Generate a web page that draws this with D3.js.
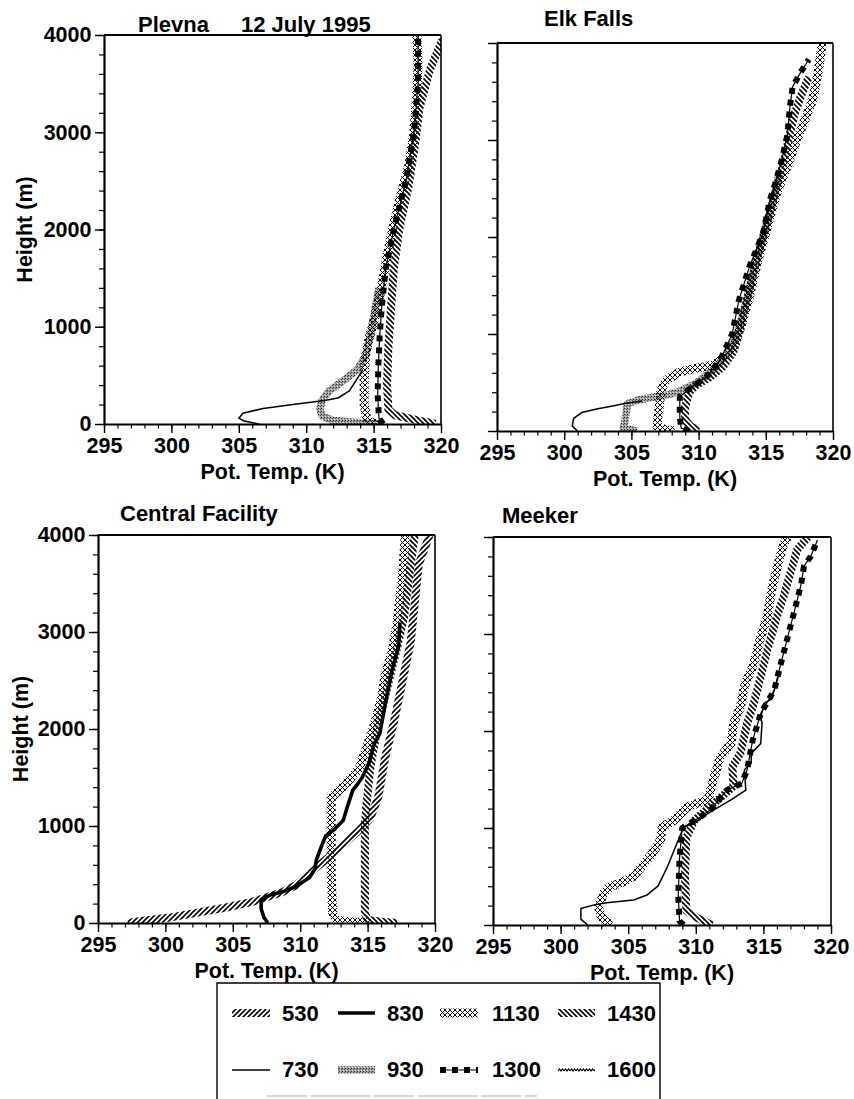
<!DOCTYPE html>
<html>
<head>
<meta charset="utf-8">
<script src="https://cdn.jsdelivr.net/npm/d3@7"></script>
<style>
  html, body { margin: 0; padding: 0; background: #fff; }
  svg { display: block; }
  text { font-family: "Liberation Sans", Arial, Helvetica, sans-serif; font-weight: bold; fill: #000; }
</style>
</head>
<body>
<svg id="chart" width="854" height="1099"></svg>
<script>
// ---------------- DATA ----------------
const tempTicks = [295, 300, 305, 310, 315, 320];
const heightTicks = [0, 1000, 2000, 3000, 4000];
const legendRow1 = ["530", "830", "1130", "1430"];
const legendRow2 = ["730", "930", "1300", "1600"];

// Plevna  [theta (K), height (m)]
const plevna730  = [[306.5,0],[305.4,30],[305.0,60],[305.3,110],[306.8,160],[309.3,205],[311.5,245],[312.4,270],[313.2,340],[313.8,470],[314.2,560]];
const plevna930  = [[315.6,0],[314.0,12],[312.0,35],[311.2,80],[311.0,150],[311.2,250],[311.7,340],[312.8,450],[313.8,560],[314.4,700],[314.8,930],[315.1,1170],[315.4,1400]];
const plevna1130 = [[315.2,0],[314.5,40],[314.3,200],[314.3,450],[314.4,700],[314.7,900],[315.1,1100],[315.5,1350],[315.9,1650],[316.4,2000],[317.0,2350],[317.6,2650],[318.0,3000],[318.2,3400],[318.3,3700],[318.2,4000]];
const plevna1300 = [[315.7,0],[315.4,60],[315.3,300],[315.35,600],[315.45,900],[315.6,1200],[315.9,1600],[316.5,2000],[317.4,2500],[318.0,3000],[318.3,3500],[318.3,4000]];
const plevna1430 = [[319.6,0],[318.2,40],[316.6,90],[316.1,150],[316.0,400],[316.1,800],[316.3,1200],[316.5,1600],[316.9,2000],[317.6,2450],[318.1,2900],[318.4,3250],[319.2,3650],[320.1,3950]];

// Elk Falls
const elk730  = [[301.0,0],[300.6,50],[300.7,130],[301.3,190],[302.5,230],[303.5,255],[304.6,285],[305.8,310]];
const elk930  = [[305.4,0],[304.4,30],[304.5,80],[304.6,180],[304.7,280],[305.5,320],[306.5,345],[307.6,370],[308.6,410],[309.8,490],[311.0,620],[312.2,800],[312.9,1000],[313.5,1300],[314.1,1650],[314.8,2000],[315.5,2350],[316.0,2650]];
const elk1130 = [[308.2,0],[307.4,20],[306.9,50],[307.0,150],[307.1,280],[307.2,420],[307.6,525],[308.6,610],[309.8,645],[311.0,680],[312.0,760],[312.7,900],[313.2,1100],[313.8,1400],[314.4,1750],[315.1,2100],[315.8,2450],[316.6,2730],[317.3,3000],[318.0,3240],[318.5,3420],[318.9,3700],[319.2,4000]];
const elk1300 = [[309.3,0],[308.7,30],[308.6,150],[308.6,350],[309.2,420],[310.0,500],[310.6,560],[311.6,730],[312.5,1000],[313.0,1350],[313.8,1700],[314.8,2040],[315.3,2380],[315.7,2550],[316.2,2800],[316.6,3050],[316.8,3350],[317.0,3550],[317.6,3700],[318.2,3830]];
const elk1430 = [[310.0,0],[309.4,50],[309.0,110],[309.0,250],[309.3,400],[309.8,470],[310.8,550],[311.8,660],[312.6,820],[313.1,1050],[313.6,1350],[314.2,1700],[314.9,2050],[315.6,2400],[316.2,2700],[316.7,3000],[317.1,3250],[317.6,3450],[318.2,3650]];

// Central Facility
const cf530  = [[297.2,0],[298.5,25],[300.5,60],[302.5,110],[304.5,160],[306.5,220],[307.5,265],[308.7,320],[309.7,390],[310.9,540],[312.5,720],[314.4,960],[315.2,1080],[315.8,1300],[316.3,1700],[317.0,2100],[317.6,2500],[318.2,2900],[318.5,3300],[318.8,3700],[319.6,4000]];
const cf830  = [[307.6,0],[307.3,60],[307.1,150],[307.1,240],[307.8,290],[309.0,335],[309.7,380],[310.7,470],[311.1,560],[311.2,650],[311.6,800],[311.9,900],[312.5,960],[313.2,1060],[313.5,1200],[313.9,1370],[314.3,1440],[314.6,1500],[315.1,1650],[315.5,1850],[315.9,1950],[316.3,2250],[316.8,2600],[317.3,2850],[317.4,3100]];
const cf1130 = [[315.2,0],[314.0,10],[312.7,25],[312.4,100],[312.3,500],[312.3,1000],[312.3,1290],[313.0,1380],[313.5,1450],[314.4,1600],[314.9,1800],[315.4,2000],[316.0,2300],[316.3,2550],[316.9,2850],[317.2,3100],[317.6,3600],[317.8,4000]];
const cf1430 = [[317.2,0],[316.2,10],[315.0,30],[314.8,100],[314.8,500],[314.8,1000],[314.9,1200],[315.2,1600],[315.7,2000],[316.4,2400],[317.2,2850],[317.7,3150],[318.2,3700],[318.5,4000]];

// Meeker
const mk730  = [[302.0,0],[301.5,60],[301.5,170],[302.4,205],[303.4,230],[305.4,258],[306.4,310],[307.2,400],[307.9,600],[308.6,840],[309.1,1010],[309.9,1050],[310.9,1150],[312.6,1290],[313.7,1390],[313.6,1600],[314.1,1670],[314.1,1770],[314.8,1870],[314.9,2080],[314.8,2150],[315.1,2290],[315.6,2330],[316.1,2560]];
const mk1130 = [[303.7,0],[303.0,80],[302.8,190],[303.2,330],[303.7,400],[304.4,430],[305.4,500],[306.4,670],[306.9,760],[307.4,880],[307.5,1010],[308.4,1080],[309.4,1220],[310.9,1290],[311.3,1500],[311.6,1630],[311.8,1730],[312.6,1870],[312.8,2080],[313.3,2250],[313.6,2460],[314.3,2700],[314.8,2970],[315.3,3180],[315.6,3450],[316.1,3730],[316.5,3930],[316.8,4000]];
const mk1300 = [[309.1,0],[308.8,40],[308.7,300],[308.8,700],[309.0,1000],[310.3,1110],[311.1,1190],[312.3,1390],[313.4,1460],[313.8,1600],[314.2,1900],[314.8,2180],[315.8,2420],[316.3,2700],[316.8,2970],[317.5,3350],[317.8,3520],[318.0,3700],[318.5,3800],[319.0,3970]];
const mk1430 = [[311.2,0],[310.0,80],[309.3,150],[309.2,500],[309.3,900],[309.9,1080],[311.3,1250],[312.8,1430],[312.7,1630],[313.3,1770],[313.8,2080],[314.3,2290],[314.8,2560],[315.3,2840],[316.0,3180],[316.5,3390],[317.0,3630],[317.5,3870],[318.3,4000]];

// ---------------- LAYOUT ----------------
const panels = [
  { titles: [["Plevna", 138, 32], ["12 July 1995", 241, 32]], x0: 104, x1: 441, y0: 35, y1: 424, yLabels: true, yTitleX: 32,
    series: [["930", plevna930], ["1130", plevna1130], ["1430", plevna1430], ["1300", plevna1300], ["730", plevna730]] },
  { titles: [["Elk Falls", 544, 26]], x0: 497, x1: 833, y0: 43, y1: 431, yLabels: false,
    series: [["930", elk930], ["1130", elk1130], ["1430", elk1430], ["1300", elk1300], ["730", elk730]] },
  { titles: [["Central Facility", 120, 521]], x0: 98, x1: 435, y0: 535, y1: 923, yLabels: true, yTitleX: 27.5,
    series: [["1130", cf1130], ["1430", cf1430], ["530", cf530], ["830", cf830]] },
  { titles: [["Meeker", 502, 523]], x0: 493, x1: 831, y0: 537, y1: 925, yLabels: false,
    series: [["1130", mk1130], ["1430", mk1430], ["1300", mk1300], ["730", mk730]] }
];

const svg = d3.select("#chart");
const defs = svg.append("defs");

// patterns
function pat(id, w, h, build) {
  const p = defs.append("pattern").attr("id", id).attr("patternUnits", "userSpaceOnUse")
    .attr("width", w).attr("height", h);
  build(p);
}
pat("hatchF", 5, 5, p => p.append("path").attr("d", "M-1,1L1,-1M0,5L5,0M4,6L6,4")
  .attr("stroke", "#000").attr("stroke-width", 1.7));
pat("hatchB", 5, 5, p => p.append("path").attr("d", "M-1,4L1,6M0,0L5,5M4,-1L6,1")
  .attr("stroke", "#000").attr("stroke-width", 1.7));
pat("cross", 5, 5, p => p.append("path").attr("d", "M0,0L5,5M5,0L0,5")
  .attr("stroke", "#000").attr("stroke-width", 1.0));
pat("gray", 3, 3, p => {
  p.append("rect").attr("width", 3).attr("height", 3).attr("fill", "#a0a0a0");
  p.append("rect").attr("width", 1).attr("height", 1).attr("fill", "#2a2a2a");
  p.append("rect").attr("x", 2).attr("y", 1).attr("width", 1).attr("height", 1).attr("fill", "#505050");
  p.append("rect").attr("x", 1).attr("y", 2).attr("width", 1).attr("height", 1).attr("fill", "#e0e0e0");
});
pat("zig", 6, 4, p => p.append("path").attr("d", "M0,3L1.5,1L3,3L4.5,1L6,3")
  .attr("stroke", "#000").attr("stroke-width", 1.2).attr("fill", "none"));

const styles = {
  "530":  [{ stroke: "url(#hatchF)", w: 8 }],
  "730":  [{ stroke: "#000", w: 1.5 }],
  "830":  [{ stroke: "#000", w: 3.6 }],
  "930":  [{ stroke: "url(#gray)", w: 7.5 }],
  "1130": [{ stroke: "url(#cross)", w: 9 }],
  "1300": [{ stroke: "#000", w: 1.2 }, { stroke: "#000", w: 6, dash: "6,6" }],
  "1430": [{ stroke: "url(#hatchB)", w: 8 }],
  "1600": [{ stroke: "url(#zig)", w: 4 }]
};

function drawStyled(g, dStr, key) {
  styles[key].forEach(s => {
    g.append("path").attr("d", dStr).attr("fill", "none")
      .attr("stroke", s.stroke).attr("stroke-width", s.w)
      .attr("stroke-linejoin", "round")
      .attr("stroke-dasharray", s.dash || null);
  });
}

const FS = 21.5;

panels.forEach((pn, i) => {
  const x = d3.scaleLinear().domain([295, 320]).range([pn.x0, pn.x1]);
  const y = d3.scaleLinear().domain([0, 4000]).range([pn.y1, pn.y0]);
  const g = svg.append("g");

  defs.append("clipPath").attr("id", "clip" + i).append("rect")
    .attr("x", pn.x0).attr("y", pn.y0).attr("width", pn.x1 - pn.x0).attr("height", pn.y1 - pn.y0);

  const line = d3.line().x(d => x(d[0])).y(d => y(d[1]));
  const plot = g.append("g").attr("clip-path", `url(#clip${i})`);
  pn.series.forEach(([key, data]) => drawStyled(plot, line(data), key));

  // frame top/right
  g.append("line").attr("x1", pn.x0).attr("x2", pn.x1).attr("y1", pn.y0).attr("y2", pn.y0)
    .attr("stroke", "#000").attr("stroke-width", 2);
  g.append("line").attr("x1", pn.x1).attr("x2", pn.x1).attr("y1", pn.y0).attr("y2", pn.y1)
    .attr("stroke", "#000").attr("stroke-width", 1.6);

  // minor ticks
  g.append("g").attr("transform", `translate(0,${pn.y1})`)
    .call(d3.axisBottom(x).tickValues(d3.range(295, 321, 1)).tickSize(4.5).tickSizeOuter(0).tickFormat(""))
    .call(a => a.select(".domain").remove())
    .call(a => a.selectAll("line").attr("stroke-width", 1.2));
  g.append("g").attr("transform", `translate(${pn.x0},0)`)
    .call(d3.axisLeft(y).tickValues(d3.range(0, 4001, 200)).tickSize(5).tickSizeOuter(0).tickFormat(""))
    .call(a => a.select(".domain").remove())
    .call(a => a.selectAll("line").attr("stroke-width", 1.2));

  // major axes
  const ax = g.append("g").attr("transform", `translate(0,${pn.y1})`)
    .call(d3.axisBottom(x).tickValues(tempTicks).tickSize(9).tickPadding(5).tickSizeOuter(0));
  ax.select(".domain").attr("stroke-width", 2.2);
  ax.selectAll("line").attr("stroke-width", 1.4);
  ax.selectAll("text").attr("font-size", FS).attr("font-family", null);

  const ay = g.append("g").attr("transform", `translate(${pn.x0},0)`)
    .call(d3.axisLeft(y).tickValues(heightTicks).tickSize(9).tickPadding(3.5).tickSizeOuter(0)
      .tickFormat(pn.yLabels ? d3.format("d") : ""));
  ay.select(".domain").attr("stroke-width", 2.2);
  ay.selectAll("line").attr("stroke-width", 1.4);
  ay.selectAll("text").attr("font-size", FS).attr("font-family", null);

  // titles
  pn.titles.forEach(([t, tx, ty]) => {
    g.append("text").attr("x", tx).attr("y", ty).attr("font-size", 22).text(t);
  });
  // x label
  g.append("text").attr("x", (pn.x0 + pn.x1) / 2).attr("y", pn.y1 + 55)
    .attr("text-anchor", "middle").attr("font-size", FS).text("Pot. Temp. (K)");
  // y label
  if (pn.yLabels) {
    const cy = (pn.y0 + pn.y1) / 2;
    g.append("text").attr("transform", `translate(${pn.yTitleX},${cy}) rotate(-90)`)
      .attr("text-anchor", "middle").attr("font-size", FS).text("Height (m)");
  }
});

// ---------------- LEGEND ----------------
const lg = svg.append("g");
const box = { x0: 217, x1: 660, y0: 983, y1: 1100 };
lg.append("path").attr("d", `M${box.x0},${box.y1}V${box.y0}H${box.x1}V${box.y1}`)
  .attr("fill", "none").attr("stroke", "#000").attr("stroke-width", 1.4);
lg.append("line").attr("x1", 267).attr("x2", 537).attr("y1", 1096).attr("y2", 1096)
  .attr("stroke", "#c8c8c8").attr("stroke-width", 1.5).attr("stroke-dasharray", "40,4,60,3");

const colSym = [[232, 270], [338, 375], [440, 478], [558, 595]];
const colText = [282, 387, 492, 607];
[[legendRow1, 1013, 1021], [legendRow2, 1070, 1077]].forEach(([row, sy, ty]) => {
  row.forEach((key, j) => {
    const [a, b] = colSym[j];
    const sg = lg.append("g");
    drawStyled(sg, `M${a},${sy}H${b}`, key);
    lg.append("text").attr("x", colText[j]).attr("y", ty).attr("font-size", 22).text(key);
  });
});
</script>
</body>
</html>
